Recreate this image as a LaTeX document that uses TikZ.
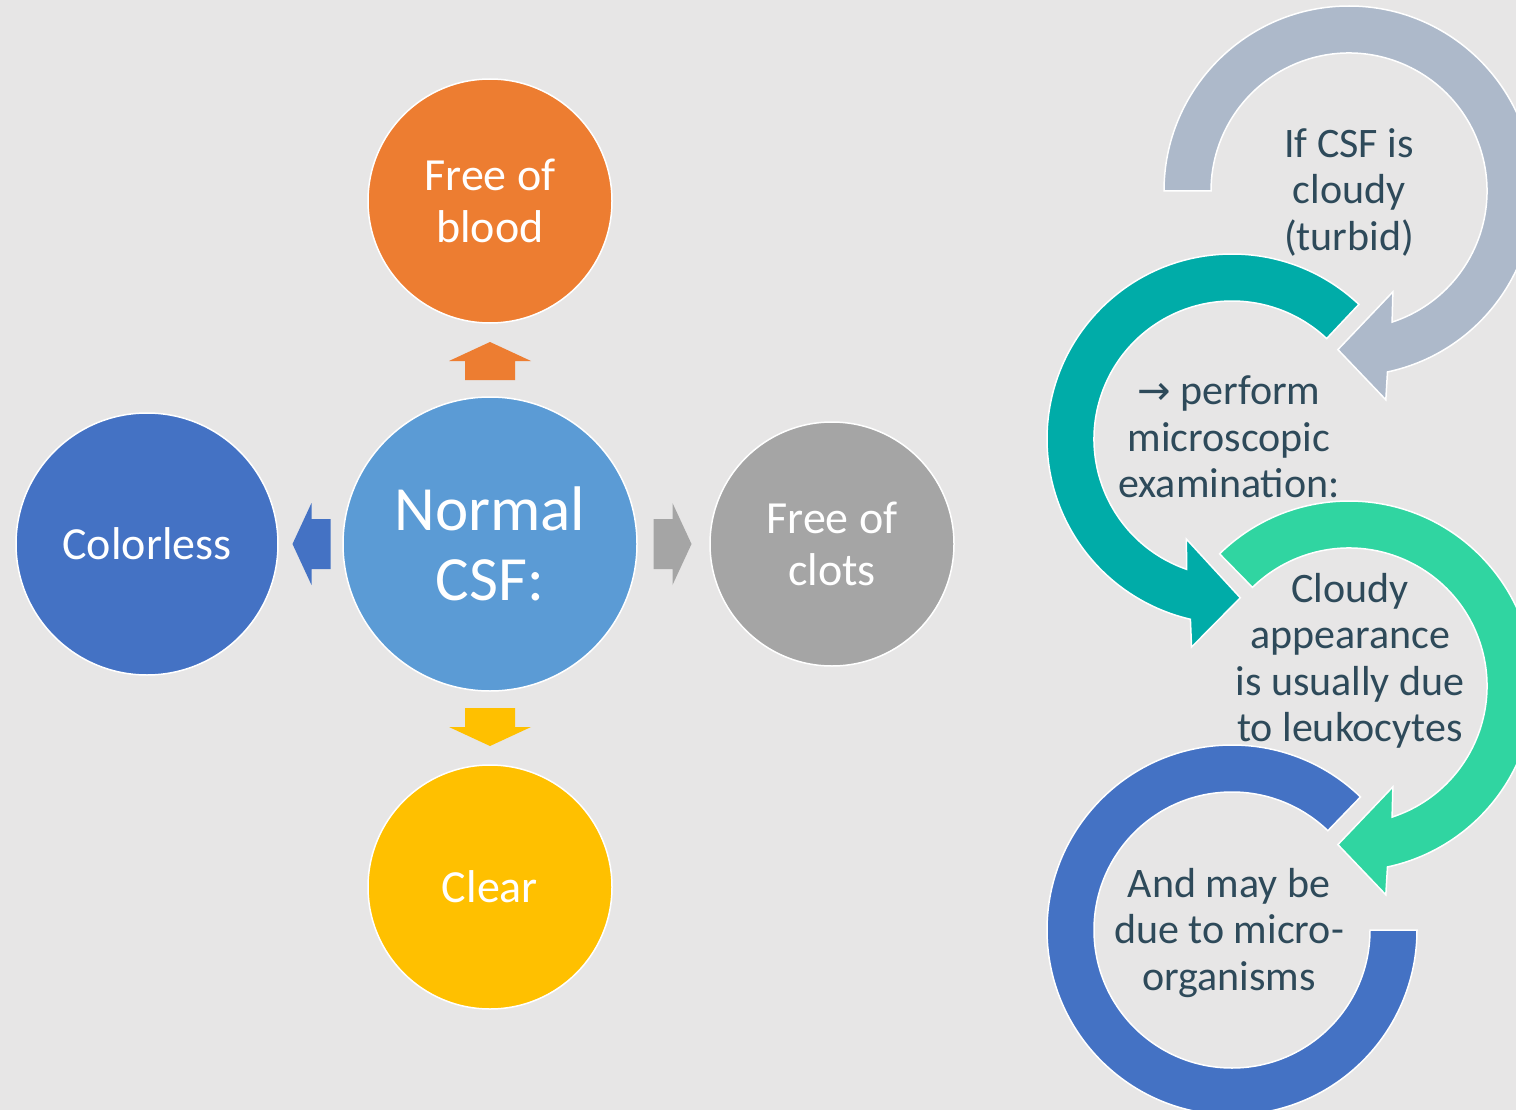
\documentclass[tikz,border=0pt]{standalone}
\usepackage{fontspec}
\setmainfont{Carlito}
\newfontfamily\arrowfont{DejaVu Sans}
\usetikzlibrary{calc}
\definecolor{bg}{HTML}{E7E6E6}
\definecolor{cOrange}{HTML}{ED7D31}
\definecolor{cMid}{HTML}{5B9BD5}
\definecolor{cDark}{HTML}{4472C4}
\definecolor{cGray}{HTML}{A5A5A5}
\definecolor{cYellow}{HTML}{FFC000}
\definecolor{rA}{HTML}{ADB9CA}
\definecolor{rB}{HTML}{00ACA8}
\definecolor{rC}{HTML}{30D5A1}
\definecolor{rD}{HTML}{4472C4}
\definecolor{cText}{HTML}{2E4A5A}
\tikzset{
  bubble/.style={circle, draw=white, line width=1.5pt, text=white, align=center,
    inner sep=0pt, font=\fontsize{46}{52}\selectfont},
  ringtext/.style={text=cText, align=center, inner sep=0pt,
    font=\fontsize{42}{46.5}\selectfont},
  ringshape/.style={draw=white, line width=1.5pt}
}
% block arrow: position, angle, colour
\newcommand{\blockarr}[3]{%
  \fill[#3, shift={(#1)}, rotate=#2] (-20,-25) -- (-1,-25) -- (-1,-41) -- (18,0)
     -- (-1,41) -- (-1,25) -- (-20,25) -- cycle;}
% clockwise ring arrow: centre, start angle, colour
\newcommand{\cwring}[3]{%
  \begin{scope}[shift={(#1)}]
  \filldraw[ringshape, fill=#3] (#2:185pt) arc[start angle=#2, end angle=-78, radius=185pt]
     -- (-80:212pt) -- (-94:159pt) -- (-66.5:110pt) -- (-71.8:138pt)
     arc[start angle=-71.8, end angle=#2, radius=138pt] -- cycle;
  \end{scope}}
% counter-clockwise ring arrow: centre, start angle, colour
\newcommand{\ccwring}[3]{%
  \begin{scope}[shift={(#1)}]
  \filldraw[ringshape, fill=#3] (#2:185pt) arc[start angle=#2, end angle=257, radius=185pt]
     -- (259:212pt) -- (273:159pt) -- (245.5:110pt) -- (250.8:138pt)
     arc[start angle=250.8, end angle=#2, radius=138pt] -- cycle;
  \end{scope}}
\begin{document}
\begin{tikzpicture}[x=1pt,y=1pt]
\fill[bg] (0,0) rectangle (1516,-1110);
\useasboundingbox (0,0) rectangle (1516,-1110);
\clip (0,0) rectangle (1516,-1110);

% left cluster
\node[bubble, fill=cMid, minimum size=294pt, font=\fontsize{63}{70}\selectfont] (csf) at (490,-544) {Normal\\CSF:};
\node[bubble, fill=cOrange, minimum size=244pt] (blood) at (490,-201) {Free of\\blood};
\node[bubble, fill=cDark, minimum size=262pt] (colorless) at (147,-544) {Colorless};
\node[bubble, fill=cGray, minimum size=244pt] (clots) at (832,-544) {Free of\\clots};
\node[bubble, fill=cYellow, minimum size=244pt] (clear) at (490,-887) {Clear};

\coordinate (mUp) at ($(csf.north)!0.5!(blood.south)$);
\coordinate (mDown) at ($(csf.south)!0.5!(clear.north)$);
\coordinate (mLeft) at ($(csf.west)!0.5!(colorless.east)$);
\coordinate (mRight) at ($(csf.east)!0.5!(clots.west)$);
\blockarr{mUp}{90}{cOrange}
\blockarr{mDown}{-90}{cYellow}
\blockarr{mLeft}{180}{cDark}
\blockarr{mRight}{0}{cGray}

% right cycle
\coordinate (C1) at (1349,-191);
\coordinate (C2) at (1232,-439);
\coordinate (C3) at (1349,-686);
\coordinate (C4) at (1232,-930);
\cwring{C1}{180}{rA}
\ccwring{C2}{46.7}{rB}
\cwring{C3}{134.4}{rC}
\begin{scope}[shift={(C4)}]
\filldraw[ringshape, fill=rD] (46:185pt) arc[start angle=46, end angle=360, radius=185pt]
   -- (0:138pt) arc[start angle=360, end angle=46, radius=138pt] -- cycle;
\end{scope}

\node[ringtext] (t1) at (1349,-192) {If CSF is\\cloudy\\(turbid)};
\node[ringtext] (t2) at (1229,-437) {{\arrowfont\fontsize{40}{46.5}\selectfont →} perform\\microscopic\\examination:};
\node[ringtext] (t3) at (1350,-661) {Cloudy\\appearance\\is usually due\\to leukocytes};
\node[ringtext] (t4) at (1229,-933) {And may be\\due to micro-\\organisms};
\end{tikzpicture}
\end{document}
